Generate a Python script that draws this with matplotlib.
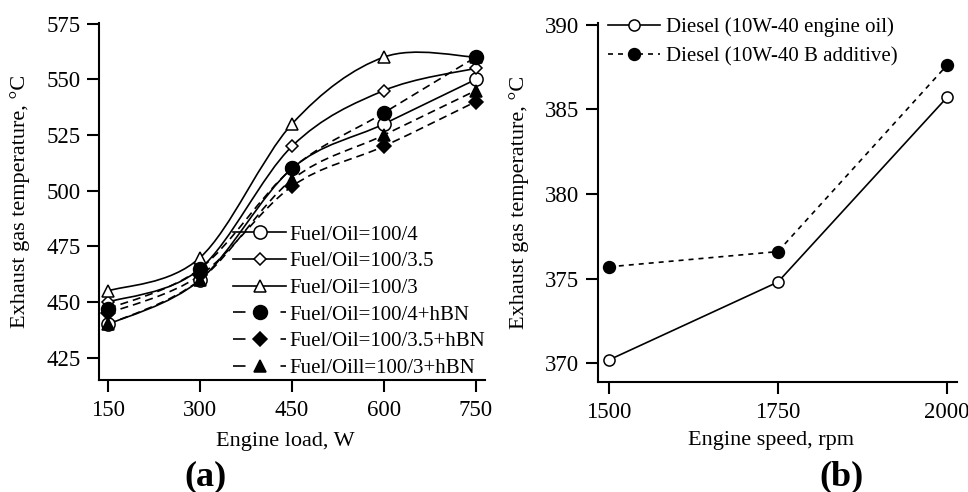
import numpy as np
import matplotlib
matplotlib.use("Agg")
import matplotlib.pyplot as plt
from matplotlib.path import Path
from matplotlib.patches import PathPatch
from matplotlib.lines import Line2D

plt.rcParams["font.family"] = ["Liberation Serif", "DejaVu Serif"]

# ---- panel (a): exhaust gas temperature vs engine load ----
load_w = [150, 300, 450, 600, 750]
oil_100_4 = [440, 460, 510, 530, 550]
oil_100_35 = [450, 465, 520, 545, 555]
oil_100_3 = [455, 470, 530, 560, 560]
oil_100_4_hbn = [447, 465, 510, 535, 560]
oil_100_35_hbn = [445, 462, 502, 520, 540]
oil_100_3_hbn = [440, 460, 505, 525, 545]
labels_a = ["Fuel/Oil=100/4", "Fuel/Oil=100/3.5", "Fuel/Oil=100/3",
            "Fuel/Oil=100/4+hBN", "Fuel/Oil=100/3.5+hBN", "Fuel/Oill=100/3+hBN"]
yticks_a = [425, 450, 475, 500, 525, 550, 575]

# ---- panel (b): exhaust gas temperature vs engine speed ----
speed_rpm = [1500, 1750, 2000]
diesel_oil = [370.2, 374.8, 385.7]
diesel_b_add = [375.7, 376.6, 387.6]
labels_b = ["Diesel (10W-40 engine oil)", "Diesel (10W-40 B additive)"]
yticks_b = [370, 375, 380, 385, 390]


def smooth_path(xs, ys):
    """Catmull-Rom style cubic Bezier path through the given points."""
    p = np.column_stack([xs, ys]).astype(float)
    ext = np.vstack([p[0], p, p[-1]])
    verts = [tuple(p[0])]
    codes = [Path.MOVETO]
    for i in range(len(p) - 1):
        p0, p1, p2, p3 = ext[i], ext[i + 1], ext[i + 2], ext[i + 3]
        c1 = p1 + (p2 - p0) / 6.0
        c2 = p2 - (p3 - p1) / 6.0
        verts += [tuple(c1), tuple(c2), tuple(p2)]
        codes += [Path.CURVE4] * 3
    return Path(verts, codes)


fig = plt.figure(figsize=(9.68, 4.92), dpi=100)
ax1 = fig.add_axes([0.1023, 0.2276, 0.3988, 0.7256])
ax2 = fig.add_axes([0.6178, 0.2236, 0.3709, 0.7297])

lw = 1.2
dash_a = (0, (4.8, 3.0))
series_a = [
    (oil_100_4, "o", "white", 9.5, "-"),
    (oil_100_35, "D", "white", 6.5, "-"),
    (oil_100_3, "^", "white", 8.5, "-"),
    (oil_100_4_hbn, "o", "black", 10, dash_a),
    (oil_100_35_hbn, "D", "black", 7, dash_a),
    (oil_100_3_hbn, "^", "black", 8.5, dash_a),
]

handles_a = []
for vals, mk, fc, ms, ls in series_a:
    ax1.add_patch(PathPatch(smooth_path(load_w, vals), facecolor="none",
                            edgecolor="black", lw=lw, linestyle=ls, zorder=2))
    ax1.plot(load_w, vals, linestyle="none", marker=mk, markersize=ms,
             markerfacecolor=fc, markeredgecolor="black", markeredgewidth=1.1,
             zorder=3)
    leg_ls = "-" if ls == "-" else (0, (7.5, 21.0))
    handles_a.append(Line2D([], [], color="black", lw=lw, linestyle=leg_ls,
                            marker=mk, markersize=ms, markerfacecolor=fc,
                            markeredgecolor="black", markeredgewidth=1.1))

ax1.set_xlim(135, 765)
ax1.set_ylim(415, 575.3)
ax1.set_xticks(load_w)
ax1.set_yticks(yticks_a)

ax1.legend(handles_a, labels_a, loc="center left",
           bbox_to_anchor=(0.347, 0.22), frameon=False, fontsize=15,
           handlelength=2.55, handletextpad=0.15, labelspacing=0.34,
           borderpad=0, borderaxespad=0)

# panel (b)
ax2.plot(speed_rpm, diesel_oil, color="black", lw=lw, linestyle="-",
         marker="o", markersize=8, markerfacecolor="white",
         markeredgecolor="black", markeredgewidth=1.1, label=labels_b[0])
ax2.plot(speed_rpm, diesel_b_add, color="black", lw=lw,
         linestyle=(0, (3.0, 3.0)), marker="o", markersize=8.5,
         markerfacecolor="black", markeredgecolor="black",
         markeredgewidth=1.1, label=labels_b[1])
ax2.set_xlim(1484, 2015)
ax2.set_ylim(368.9, 390.1)
ax2.set_xticks(speed_rpm)
ax2.set_yticks(yticks_b)
ax2.legend(loc="center left", bbox_to_anchor=(0.028, 0.947), frameon=False,
           fontsize=15, handlelength=2.5, handletextpad=0.29,
           labelspacing=0.44, borderpad=0, borderaxespad=0)

for ax in (ax1, ax2):
    for side in ("top", "right"):
        ax.spines[side].set_visible(False)
    for side in ("left", "bottom"):
        ax.spines[side].set_linewidth(1.5)
    ax.tick_params(direction="out", length=8.5, width=1.5, labelsize=16.5,
                   pad=5, colors="black")
    ax.tick_params(axis="x", pad=6)

ax1.set_ylabel("Exhaust gas temperature, °C", fontsize=16)
ax1.set_xlabel("Engine load, W", fontsize=16)
ax1.yaxis.set_label_coords(-0.205, 0.5)
ax1.xaxis.set_label_coords(0.482, -0.171)

ax2.set_ylabel("Exhaust gas temperature, °C", fontsize=16)
ax2.set_xlabel("Engine speed, rpm", fontsize=16)
ax2.yaxis.set_label_coords(-0.22, 0.5)
ax2.xaxis.set_label_coords(0.482, -0.164)

for ax in (ax1, ax2):
    ax.xaxis.label.set_va("center")
    ax.yaxis.label.set_va("center")

fig.text(0.2128, 0.0305, "(a)", fontsize=26, fontweight="bold",
         ha="center", va="center")
fig.text(0.8698, 0.0305, "(b)", fontsize=26, fontweight="bold",
         ha="center", va="center")

fig.savefig("out.png", dpi=100)
